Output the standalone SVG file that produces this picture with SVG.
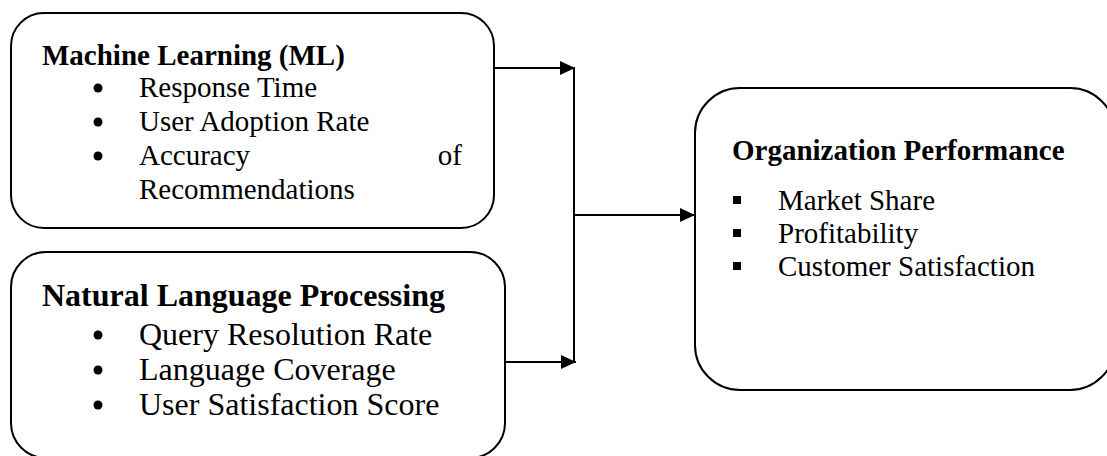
<svg xmlns="http://www.w3.org/2000/svg" width="1107" height="456" viewBox="0 0 1107 456">
  <style>
    .box { fill: #fff; stroke: #000; stroke-width: 2; }
    .t { font-family: "Liberation Serif", "Times New Roman", serif; fill: #000; }
    .title { font-weight: bold; font-size: 29px; }
    .item { font-size: 29px; }
    .big { font-size: 32px; }
    .conn { stroke: #000; stroke-width: 2; fill: none; }
  </style>
  <defs>
    <marker id="arrow" markerUnits="userSpaceOnUse" markerWidth="16" markerHeight="16" refX="15" refY="7" orient="auto">
      <path d="M0,0 L15,7 L0,14 z" fill="#000"/>
    </marker>
  </defs>
  <rect width="1107" height="456" fill="#fff"/>
  <g id="ml">
    <rect class="box" x="11" y="13" width="483" height="215" rx="33" ry="33"/>
    <text class="t title" x="42" y="65">Machine Learning (ML)</text>
    <circle cx="98" cy="88" r="4.5"/>
    <text class="t item" x="139" y="97">Response Time</text>
    <circle cx="98" cy="122" r="4.5"/>
    <text class="t item" x="139" y="131">User Adoption Rate</text>
    <circle cx="98" cy="156" r="4.5"/>
    <text class="t item" x="139" y="165">Accuracy</text>
    <text class="t item" x="462" y="165" text-anchor="end">of</text>
    <text class="t item" x="139" y="199">Recommendations</text>
  </g>
  <g id="nlp">
    <rect class="box" x="11" y="252" width="494" height="206" rx="35" ry="35"/>
    <text class="t title big" x="42" y="306">Natural Language Processing</text>
    <circle cx="98" cy="335" r="4.5"/>
    <text class="t item big" x="139" y="345">Query Resolution Rate</text>
    <circle cx="98" cy="370" r="4.5"/>
    <text class="t item big" x="139" y="380">Language Coverage</text>
    <circle cx="98" cy="405" r="4.5"/>
    <text class="t item big" x="139" y="415">User Satisfaction Score</text>
  </g>
  <g id="perf">
    <rect class="box" x="695" y="88" width="420" height="302" rx="45" ry="45"/>
    <text class="t title" x="732" y="160">Organization Performance</text>
    <rect x="733" y="196" width="8" height="8"/>
    <text class="t item" x="778" y="210">Market Share</text>
    <rect x="733" y="229" width="8" height="8"/>
    <text class="t item" x="778" y="243">Profitability</text>
    <rect x="733" y="262" width="8" height="8"/>
    <text class="t item" x="778" y="276">Customer Satisfaction</text>
  </g>
  <g id="connectors">
    <path class="conn" d="M494 68 H575" marker-end="url(#arrow)"/>
    <path class="conn" d="M574 68 V362"/>
    <path class="conn" d="M505 362 H576" marker-end="url(#arrow)"/>
    <path class="conn" d="M574 215 H695" marker-end="url(#arrow)"/>
  </g>
</svg>
